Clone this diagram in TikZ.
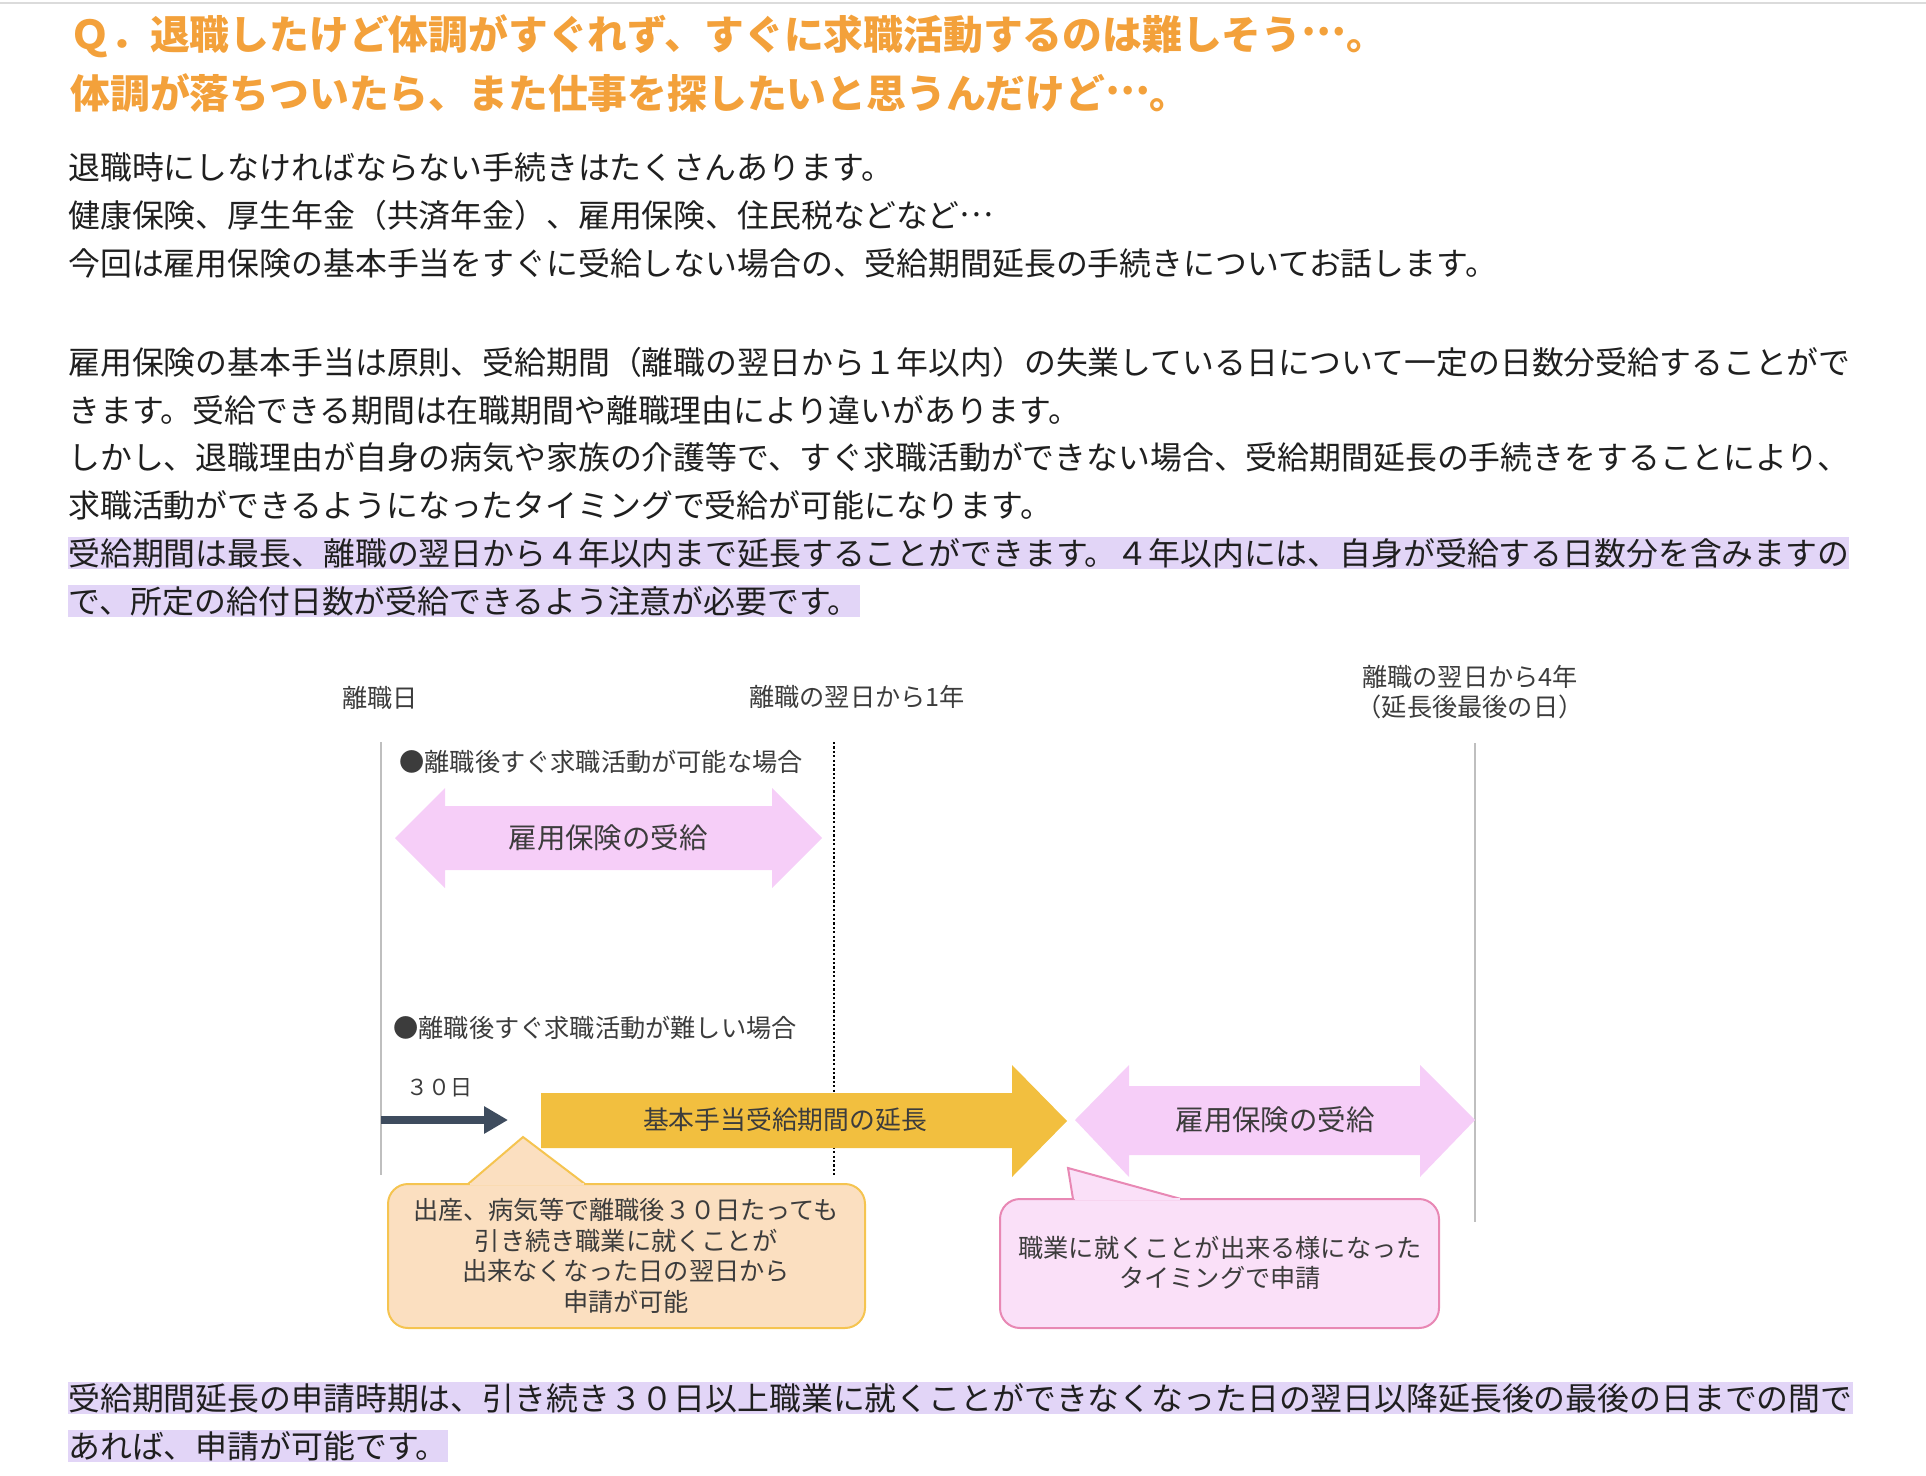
\documentclass[tikz,border=0pt]{standalone}
\usepackage{fontspec}
\newfontfamily\jpfont{Noto Sans CJK JP}
\usetikzlibrary{arrows.meta}

\definecolor{titleorange}{RGB}{243,161,59}
\definecolor{hilite}{RGB}{226,213,247}
\definecolor{ink}{RGB}{60,60,60}
\definecolor{pinkfill}{RGB}{246,206,248}
\definecolor{goldfill}{RGB}{242,191,63}
\definecolor{slate}{RGB}{62,76,94}
\definecolor{peach}{RGB}{251,223,192}
\definecolor{peachline}{RGB}{245,196,80}
\definecolor{rosefill}{RGB}{250,224,248}
\definecolor{roseline}{RGB}{232,136,180}

\newcommand{\middots}{\raisebox{0.33em}{…}}

\begin{document}
\begin{tikzpicture}[x=0.5pt, y=-0.5pt,
    body/.style={anchor=west, inner sep=0pt, text height=14pt, text depth=1.9pt,
        font=\jpfont\fontsize{15.93}{19}\selectfont, text=black!88},
    marked/.style={body, fill=hilite},
    headline/.style={anchor=west, inner sep=0pt, text height=17.5pt, text depth=2.4pt,
        font=\jpfont\bfseries\fontsize{19.9}{23}\selectfont, text=titleorange},
    diagtext/.style={inner sep=0pt, align=center, text=ink,
        font=\jpfont\fontsize{12.6}{15.3}\selectfont},
    bigtext/.style={diagtext, font=\jpfont\fontsize{14.2}{17}\selectfont},
    timeline/.style={draw=black!25, line width=1pt},
    dotline/.style={draw=black, line width=1.2pt, dash pattern=on 1.1pt off 1.1pt},
    darrow/.style={draw=slate, line width=4pt, -{Triangle[length=12pt,width=13pt]}},
    peachbox/.style={fill=peach, draw=peachline, line width=1pt},
    rosebox/.style={fill=rosefill, draw=roseline, line width=1pt}]

    \useasboundingbox (0,0) rectangle (1926,1476);
    \draw[black!14, line width=1pt] (0,3) -- (1926,3);

    % question
    \node[headline] (q1) at (70,34) {Ｑ．退職したけど体調がすぐれず、すぐに求職活動するのは難しそう\middots。};
    \node[headline] (q2) at (70,93) {体調が落ちついたら、また仕事を探したいと思うんだけど\middots。};

    % text
    \node[body] (p1) at (68,167) {退職時にしなければならない手続きはたくさんあります。};
    \node[body] (p2) at (68,215) {健康保険、厚生年金（共済年金）、雇用保険、住民税などなど\middots};
    \node[body] (p3) at (68,263) {今回は雇用保険の基本手当をすぐに受給しない場合の、受給期間延長の手続きについてお話します。};
    \node[body] (p4) at (68,362) {雇用保険の基本手当は原則、受給期間（離職の翌日から１年以内）の失業している日について一定の日数分受給することがで};
    \node[body] (p5) at (68,410) {きます。受給できる期間は在職期間や離職理由により違いがあります。};
    \node[body] (p6) at (68,457) {しかし、退職理由が自身の病気や家族の介護等で、すぐ求職活動ができない場合、受給期間延長の手続きをすることにより、};
    \node[body] (p7) at (68,505) {求職活動ができるようになったタイミングで受給が可能になります。};
    \node[marked] (p8) at (68,553) {受給期間は最長、離職の翌日から４年以内まで延長することができます。４年以内には、自身が受給する日数分を含みますの};
    \node[marked] (p9) at (68,601) {で、所定の給付日数が受給できるよう注意が必要です。};

    % time lines
    \coordinate (leave top) at (381,742);
    \coordinate (leave bot) at (381,1175);
    \coordinate (year top) at (834,742);
    \coordinate (year bot) at (834,1175);
    \coordinate (four top) at (1475,743);
    \coordinate (four bot) at (1475,1222);
    \draw[timeline] (leave top) -- (leave bot);
    \draw[dotline] (year top) -- (year bot);
    \draw[timeline] (four top) -- (four bot);

    \node[diagtext] (leave) at (380,698) {離職日};
    \node[diagtext] (year) at (857,697) {離職の翌日から1年};
    \node[diagtext, font=\jpfont\fontsize{12.6}{15}\selectfont] (four) at (1470,692) {離職の翌日から4年\\（延長後最後の日）};

    % case 1
    \node[diagtext, anchor=west] (case1) at (399,762) {●離職後すぐ求職活動が可能な場合};
    \fill[pinkfill] (395,838) -- (445,788) -- (445,806) -- (772,806) -- (772,788) -- (822,838)
        -- (772,888) -- (772,870) -- (445,870) -- (445,888) -- cycle;
    \node[bigtext] (benefit1) at (608,838) {雇用保険の受給};

    % case 2
    \node[diagtext, anchor=west] (case2) at (393,1028) {●離職後すぐ求職活動が難しい場合};
    \node[diagtext, font=\jpfont\fontsize{11}{13}\selectfont] (days) at (439,1088) {３０日};
    \coordinate (days start) at (381,1120);
    \coordinate (days end) at (508,1120);
    \draw[darrow] (days start) -- (days end);

    \fill[goldfill] (541,1093) -- (1012,1093) -- (1012,1065) -- (1067,1121) -- (1012,1177)
        -- (1012,1148) -- (541,1148) -- cycle;
    \node[diagtext, font=\jpfont\fontsize{12.9}{15}\selectfont] (extend) at (785,1120) {基本手当受給期間の延長};

    \fill[pinkfill] (1075,1120) -- (1129,1065) -- (1129,1086) -- (1420,1086) -- (1420,1065) -- (1475,1120)
        -- (1420,1177) -- (1420,1155) -- (1129,1155) -- (1129,1177) -- cycle;
    \node[bigtext] (benefit2) at (1275,1120) {雇用保険の受給};

    % callouts
    \filldraw[peachbox, rounded corners=10pt] (388,1184) rectangle (865,1328);
    \filldraw[peachbox] (468,1184) -- (523,1137) -- (585,1184);
    \draw[peach, line width=1.3pt] (469.5,1184) -- (583.5,1184);
    \node[diagtext] (apply1) at (626,1256) {出産、病気等で離職後３０日たっても\\引き続き職業に就くことが\\出来なくなった日の翌日から\\申請が可能};

    \filldraw[rosebox, rounded corners=10pt] (1000,1199) rectangle (1439,1328);
    \filldraw[rosebox] (1073,1199) -- (1068,1168) -- (1181,1199);
    \draw[rosefill, line width=1.3pt] (1074.5,1199) -- (1179.5,1199);
    \node[diagtext] (apply2) at (1220,1263) {職業に就くことが出来る様になった\\タイミングで申請};

    % closing text
    \node[marked] (p10) at (68,1398) {受給期間延長の申請時期は、引き続き３０日以上職業に就くことができなくなった日の翌日以降延長後の最後の日までの間で};
    \node[marked] (p11) at (68,1446) {あれば、申請が可能です。};

\end{tikzpicture}
\end{document}
